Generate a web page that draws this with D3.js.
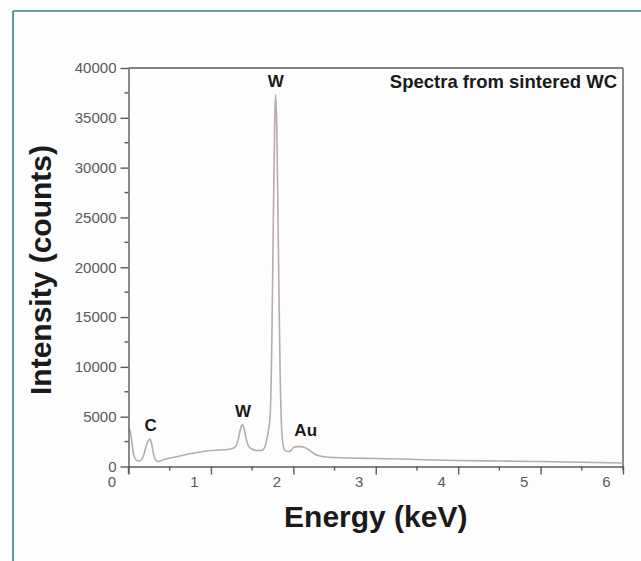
<!DOCTYPE html>
<html>
<head>
<meta charset="utf-8">
<script src="https://cdn.jsdelivr.net/npm/d3@7"></script>
<style>
  html, body { margin: 0; padding: 0; background: #fdfdfd; }
  svg { display: block; }
  text { font-family: "Liberation Sans", Arial, Helvetica, sans-serif; }
</style>
</head>
<body>
<svg id="chart" width="641" height="561"></svg>
<script>
// EDS spectrum of sintered tungsten carbide
const energy = [
  0.00, 0.02, 0.04, 0.06, 0.08, 0.10, 0.13, 0.16, 0.19, 0.22, 0.25, 0.26, 0.28, 0.30, 0.32, 0.34,
  0.37, 0.40, 0.45, 0.50, 0.60, 0.70, 0.80, 0.90, 1.00, 1.10, 1.20, 1.26, 1.30, 1.33, 1.36, 1.38,
  1.40, 1.43, 1.46, 1.50, 1.55, 1.60, 1.64, 1.66, 1.68, 1.70, 1.72, 1.74, 1.76, 1.775, 1.786, 1.80,
  1.82, 1.84, 1.86, 1.88, 1.90, 1.94, 1.97, 2.00, 2.04, 2.09, 2.14, 2.20, 2.25, 2.30, 2.40, 2.50,
  2.70, 3.00, 3.30, 3.70, 4.00, 4.50, 5.00, 5.50, 6.00
];
const counts = [
  3700, 3600, 2500, 1300, 800, 600, 550, 700, 1300, 2200, 2700, 2750, 2300, 1400, 800, 550,
  500, 600, 750, 850, 1000, 1200, 1350, 1500, 1600, 1650, 1700, 1800, 2000, 2700, 3800, 4200,
  3900, 2700, 2000, 1750, 1600, 1600, 1750, 2100, 2800, 3700, 5300, 13000, 26500, 35000, 37300, 33800,
  21000, 9200, 3500, 2000, 1600, 1500, 1600, 1900, 2000, 2000, 1900, 1600, 1300, 1100, 950, 900,
  850, 800, 750, 650, 600, 550, 500, 430, 350
];

const xTicks = [0, 1, 2, 3, 4, 5, 6];
const yTicks = [0, 5000, 10000, 15000, 20000, 25000, 30000, 35000, 40000];
const xMinor = [0.5, 1.5, 2.5, 3.5, 4.5, 5.5];
const yMinor = [2500, 7500, 12500, 17500, 22500, 27500, 32500, 37500];

const peakLabels = ["C", "W", "W", "Au"];
const peakEnergy = [0.27, 1.39, 1.786, 2.15];
const peakLabelCounts = [3600, 5000, 38100, 3100];

const title = "Spectra from sintered WC";
const xTitle = "Energy (keV)";
const yTitle = "Intensity (counts)";

const svg = d3.select("#chart");

// outer frame: teal rule along top and left edge
svg.append("line").attr("x1", 13).attr("x2", 641).attr("y1", 11).attr("y2", 11)
  .attr("stroke", "#2b8088").attr("stroke-width", 1.6);
svg.append("line").attr("x1", 13).attr("x2", 13).attr("y1", 11).attr("y2", 561)
  .attr("stroke", "#2b8088").attr("stroke-width", 1.6);

const x = d3.scaleLinear().domain([0, 6]).range([128.5, 623]);
const y = d3.scaleLinear().domain([0, 40000]).range([466.5, 68]);

const axisColor = "#5a5a5a";
const tickText = "#5a5a5a";

// box: top and right edges
svg.append("line").attr("x1", x(0)).attr("x2", x(6)).attr("y1", y(40000)).attr("y2", y(40000))
  .attr("stroke", axisColor).attr("stroke-width", 1.4);
svg.append("line").attr("x1", x(6)).attr("x2", x(6)).attr("y1", y(40000)).attr("y2", y(0) + 4)
  .attr("stroke", axisColor).attr("stroke-width", 1.4);

// spectrum
const pts = energy.map((e, i) => [e, counts[i]]);
const line = d3.line().x(d => x(d[0])).y(d => y(d[1])).curve(d3.curveMonotoneX);
svg.append("path").datum(pts).attr("d", line)
  .attr("fill", "none").attr("stroke", "#b8aca6").attr("stroke-width", 1.6)
  .attr("stroke-linejoin", "round");

// y axis
const yAxis = svg.append("g").attr("transform", `translate(${x(0)},0)`)
  .call(d3.axisLeft(y).tickValues(yTicks).tickSize(8).tickSizeOuter(0).tickPadding(4).tickFormat(d3.format("d")));
yAxis.select(".domain").attr("stroke", axisColor).attr("stroke-width", 1.4);
yAxis.selectAll(".tick line").attr("stroke", axisColor).attr("stroke-width", 1.4);
yAxis.selectAll(".tick text").attr("fill", tickText).attr("font-size", 15);
yAxis.selectAll(".minor").data(yMinor).enter().append("line")
  .attr("x1", -4).attr("x2", 0).attr("y1", d => y(d)).attr("y2", d => y(d))
  .attr("stroke", axisColor).attr("stroke-width", 1.4);

// x axis
const xAxis = svg.append("g").attr("transform", `translate(0,${y(0)})`)
  .call(d3.axisBottom(x).tickValues(xTicks).tickSize(8).tickSizeOuter(0).tickPadding(2).tickFormat(d3.format("d")));
xAxis.select(".domain").attr("stroke", axisColor).attr("stroke-width", 1.4);
xAxis.selectAll(".tick line").attr("stroke", axisColor).attr("stroke-width", 1.4);
xAxis.selectAll(".tick text").attr("fill", tickText).attr("font-size", 15).attr("dx", -17);
xAxis.selectAll(".minor").data(xMinor).enter().append("line")
  .attr("x1", d => x(d)).attr("x2", d => x(d)).attr("y1", 0).attr("y2", 4)
  .attr("stroke", axisColor).attr("stroke-width", 1.4);
// small stub of the y axis below the origin
svg.append("line").attr("x1", x(0)).attr("x2", x(0)).attr("y1", y(0)).attr("y2", y(0) + 7)
  .attr("stroke", axisColor).attr("stroke-width", 1.4);

// peak labels
svg.selectAll(".peak").data(peakLabels).enter().append("text")
  .attr("x", (d, i) => x(peakEnergy[i]))
  .attr("y", (d, i) => y(peakLabelCounts[i]))
  .attr("text-anchor", "middle")
  .attr("font-size", 17).attr("font-weight", "bold").attr("fill", "#1a1a1a")
  .text(d => d);

// inset title
svg.append("text").attr("x", 617).attr("y", 88).attr("text-anchor", "end")
  .attr("font-size", 18.5).attr("font-weight", "bold").attr("fill", "#1a1a1a")
  .text(title);

// axis titles
svg.append("text").attr("x", (x(0) + x(6)) / 2).attr("y", 527).attr("text-anchor", "middle")
  .attr("font-size", 30).attr("font-weight", "bold").attr("fill", "#1a1a1a")
  .text(xTitle);
svg.append("text").attr("transform", "translate(51,270) rotate(-90)").attr("text-anchor", "middle")
  .attr("font-size", 30).attr("font-weight", "bold").attr("fill", "#1a1a1a")
  .text(yTitle);
</script>
</body>
</html>
